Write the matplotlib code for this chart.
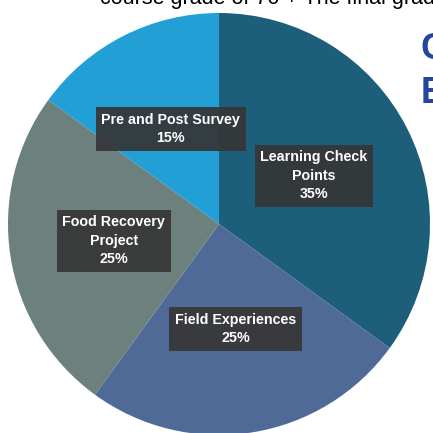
import matplotlib
matplotlib.use("Agg")
import matplotlib.pyplot as plt

categories = ["Learning Check\nPoints", "Field Experiences", "Food Recovery\nProject", "Pre and Post Survey"]
values = [35, 25, 25, 15]
colors = ["#1d5f7a", "#506a98", "#6c807e", "#229fd4"]

W = H = 433
fig = plt.figure(figsize=(4.33, 4.33), dpi=100)
ax = fig.add_axes([0, 0, 1, 1])

cx, cy, r = 219, H - 224, 211
labels = [f"{c}\n{v}%" for c, v in zip(categories, values)]
wedges, texts = ax.pie(values, colors=colors, startangle=90, counterclock=False,
                       center=(cx, cy), radius=r, labels=labels, labeldistance=0.505,
                       wedgeprops=dict(linewidth=0), frame=True)
ax.set_xlim(0, W)
ax.set_ylim(0, H)
ax.set_aspect("equal")
ax.axis("off")
for t in texts:
    t.set_ha("center")
    t.set_va("center")
    t.set_multialignment("center")
    t.set_family(["Liberation Sans", "DejaVu Sans"])
    t.set_weight("bold")
    t.set_fontsize(10.3)
    t.set_color("white")
    t.set_linespacing(1.4)
    t.set_bbox(dict(boxstyle="square,pad=0.4", facecolor="#363636", edgecolor="none", alpha=0.92))

fig.text(100 / W, 1 - 4 / H, "course grade of 70 + The final grade", fontsize=15.5,
         family=["Liberation Sans", "DejaVu Sans"], color="black", ha="left", va="baseline")
fig.text(421 / W, 1 - 59 / H, "C", fontsize=26, weight="bold", color="#25479a",
         family=["Liberation Sans", "DejaVu Sans"], ha="left", va="baseline")
fig.text(421 / W, 1 - 103 / H, "E", fontsize=26, weight="bold", color="#25479a",
         family=["Liberation Sans", "DejaVu Sans"], ha="left", va="baseline")

fig.savefig("out.png", dpi=100, facecolor="white")
